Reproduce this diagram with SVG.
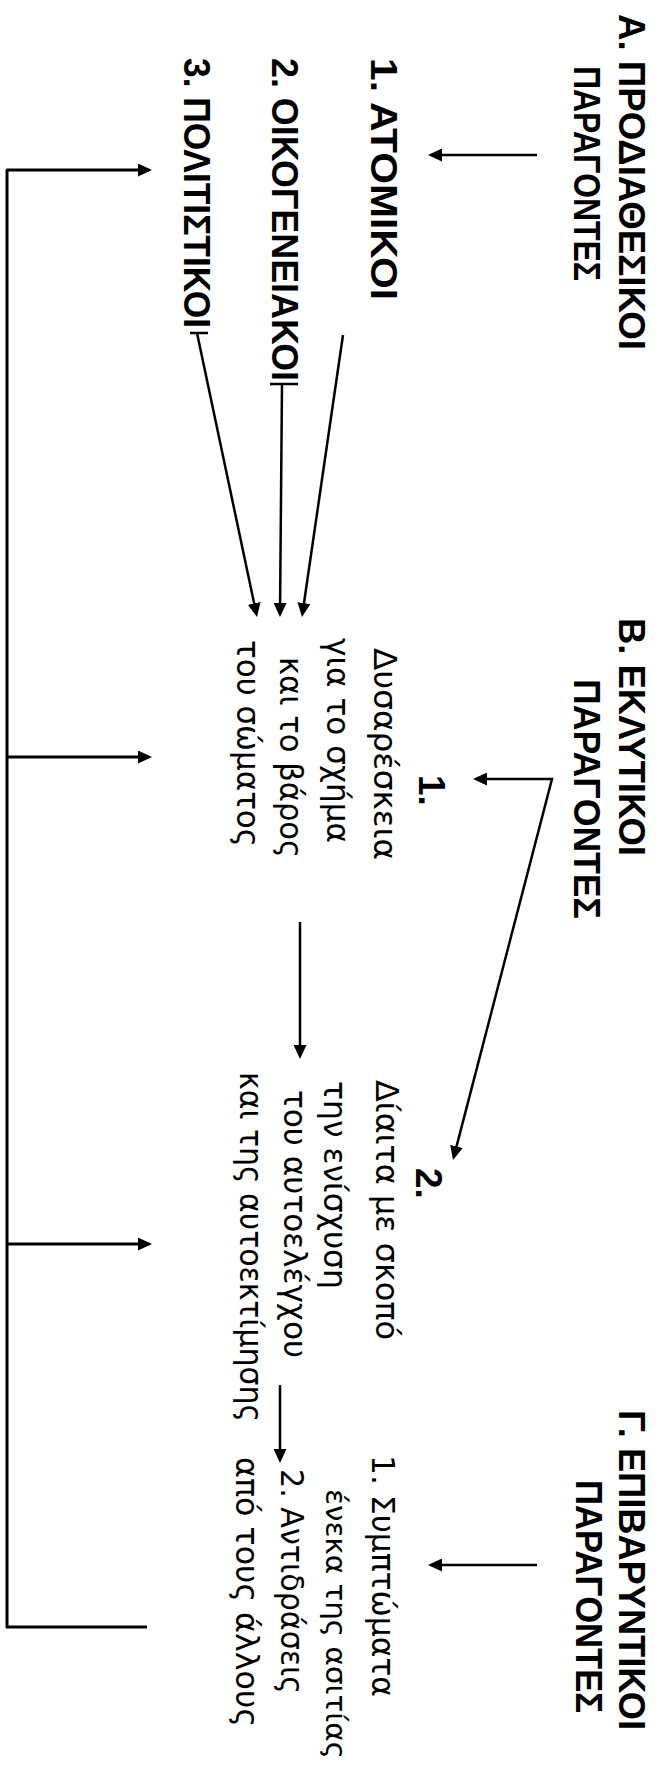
<svg xmlns="http://www.w3.org/2000/svg" width="669" height="1775" viewBox="0 0 669 1775">
<style>
.bt{font-family:"Liberation Sans",Arial,sans-serif;font-weight:bold;font-size:37px;fill:#000}
.bi{font-family:"Liberation Sans",Arial,sans-serif;font-weight:bold;font-size:37px;fill:#000}
.rt{font-family:"DejaVu Sans","Liberation Sans",sans-serif;font-size:32px;fill:#000}
.rs{font-family:"DejaVu Sans","Liberation Sans",sans-serif;font-size:29px;fill:#000}
.c{fill:none;stroke:#000;stroke-width:2.5}
.k{fill:none;stroke:#000;stroke-width:3;stroke-linejoin:round}
</style>
<defs>
<marker id="ah" viewBox="0 0 14 13" refX="11" refY="6.5" markerWidth="14" markerHeight="13" orient="auto" markerUnits="userSpaceOnUse"><path d="M0,0 L14,6.5 L0,13 z" fill="#000"/></marker>
<marker id="ahs" viewBox="0 0 14 13" refX="11" refY="6.5" markerWidth="14" markerHeight="13" orient="auto-start-reverse" markerUnits="userSpaceOnUse"><path d="M0,0 L14,6.5 L0,13 z" fill="#000"/></marker>
</defs>
<rect width="669" height="1775" fill="#fff"/>

<g id="titleA">
<text class="bt" transform="translate(619,14) rotate(90)" textLength="336" lengthAdjust="spacingAndGlyphs">Α. ΠΡΟΔΙΑΘΕΣΙΚΟΙ</text>
<text class="bt" transform="translate(574,66) rotate(90)" textLength="215" lengthAdjust="spacingAndGlyphs">ΠΑΡΑΓΟΝΤΕΣ</text>
</g>
<g id="a1"><text class="bi" transform="translate(371,58) rotate(90)" textLength="242" lengthAdjust="spacingAndGlyphs">1. ΑΤΟΜΙΚΟΙ</text></g>
<g id="a2"><text class="bi" transform="translate(272,58) rotate(90)" textLength="323" lengthAdjust="spacingAndGlyphs">2. ΟΙΚΟΓΕΝΕΙΑΚΟΙ</text></g>
<g id="a3"><text class="bi" transform="translate(184,58) rotate(90)" textLength="270" lengthAdjust="spacingAndGlyphs">3. ΠΟΛΙΤΙΣΤΙΚΟΙ</text></g>

<g id="titleB">
<text class="bt" transform="translate(619,618) rotate(90)" textLength="238" lengthAdjust="spacingAndGlyphs">Β. ΕΚΛΥΤΙΚΟΙ</text>
<text class="bt" transform="translate(574,679) rotate(90)" textLength="240" lengthAdjust="spacingAndGlyphs">ΠΑΡΑΓΟΝΤΕΣ</text>
</g>
<g id="b1">
<text class="bi" transform="translate(419,775) rotate(90)">1.</text>
<text class="rt" transform="translate(374,648) rotate(90)" textLength="212" lengthAdjust="spacingAndGlyphs">Δυσαρέσκεια</text>
<text class="rt" transform="translate(327,638) rotate(90)" textLength="205" lengthAdjust="spacingAndGlyphs">για το σχήμα</text>
<text class="rt" transform="translate(280,657) rotate(90)" textLength="201" lengthAdjust="spacingAndGlyphs">και το βάρος</text>
<text class="rt" transform="translate(237,640) rotate(90)" textLength="207" lengthAdjust="spacingAndGlyphs">του σώματος</text>
</g>
<g id="b2">
<text class="bi" transform="translate(416,1168) rotate(90)">2.</text>
<text class="rt" transform="translate(376,1080) rotate(90)" textLength="260" lengthAdjust="spacingAndGlyphs">Δίαιτα με σκοπό</text>
<text class="rt" transform="translate(324,1081) rotate(90)" textLength="208" lengthAdjust="spacingAndGlyphs">την ενίσχυση</text>
<text class="rt" transform="translate(284,1090) rotate(90)" textLength="268" lengthAdjust="spacingAndGlyphs">του αυτοελέγχου</text>
<text class="rt" transform="translate(240,1072) rotate(90)" textLength="350" lengthAdjust="spacingAndGlyphs">και της αυτοεκτίμησης</text>
</g>

<g id="titleC">
<text class="bt" transform="translate(619,1410) rotate(90)" textLength="320" lengthAdjust="spacingAndGlyphs">Γ. ΕΠΙΒΑΡΥΝΤΙΚΟΙ</text>
<text class="bt" transform="translate(576,1480) rotate(90)" textLength="233" lengthAdjust="spacingAndGlyphs">ΠΑΡΑΓΟΝΤΕΣ</text>
</g>
<g id="c1">
<text class="rt" transform="translate(372,1455) rotate(90)" textLength="242" lengthAdjust="spacingAndGlyphs">1. Συμπτώματα</text>
<text class="rs" transform="translate(326,1489) rotate(90)" textLength="270" lengthAdjust="spacingAndGlyphs">ένεκα της ασιτίας</text>
</g>
<g id="c2">
<text class="rt" transform="translate(281,1469) rotate(90)" textLength="225" lengthAdjust="spacingAndGlyphs">2. Αντιδράσεις</text>
<text class="rt" transform="translate(236,1457) rotate(90)" textLength="270" lengthAdjust="spacingAndGlyphs">από τους άλλους</text>
</g>

<g id="connectors">
<path class="c" d="M537,155 L431,155" marker-end="url(#ah)"/>
<path class="c" d="M537,1565 L431,1565" marker-end="url(#ah)"/>
<path class="c" d="M343,335 L302.4,614" marker-end="url(#ah)"/>
<path class="c" d="M270,384 L298,384"/>
<path class="c" d="M282,384 L280,614" marker-end="url(#ah)"/>
<path class="c" d="M190,333 L208,333"/>
<path class="c" d="M197,333 L256.4,614.1" marker-end="url(#ah)"/>
<path class="c" d="M300,922 L300,1056" marker-end="url(#ah)"/>
<path class="c" d="M476,779 L552,779 L453.75,1157.1" marker-start="url(#ahs)" marker-end="url(#ah)" stroke-linejoin="miter"/>
<path class="c" d="M280,1385 L280,1460" marker-end="url(#ah)"/>
<path class="k" d="M147,1627 L7,1627 L7,170 L149,170" marker-end="url(#ah)"/>
<path class="k" d="M7,757 L149,757" marker-end="url(#ah)"/>
<path class="k" d="M7,1244 L149,1244" marker-end="url(#ah)"/>
</g>
</svg>
